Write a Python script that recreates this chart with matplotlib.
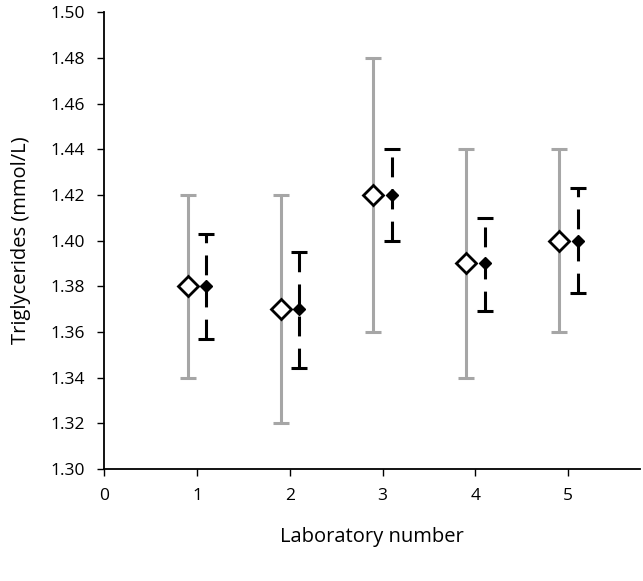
import matplotlib
matplotlib.use("Agg")
import matplotlib.pyplot as plt

plt.rcParams['font.family'] = ['Open Sans', 'DejaVu Sans']

labs = [1, 2, 3, 4, 5]
mean_a = [1.38, 1.37, 1.42, 1.39, 1.40]
low_a = [1.34, 1.32, 1.36, 1.34, 1.36]
high_a = [1.42, 1.42, 1.48, 1.44, 1.44]
mean_b = [1.38, 1.37, 1.42, 1.39, 1.40]
low_b = [1.357, 1.344, 1.400, 1.369, 1.377]
high_b = [1.403, 1.395, 1.440, 1.410, 1.423]
yticks = [1.30, 1.32, 1.34, 1.36, 1.38, 1.40, 1.42, 1.44, 1.46, 1.48, 1.50]

fig = plt.figure(figsize=(6.43, 5.81), dpi=100)
ax = fig.add_axes([0.162, 0.193, 0.833, 0.786])

xa = [l - 0.1 for l in labs]
xb = [l + 0.1 for l in labs]
ea = [[m - l for m, l in zip(mean_a, low_a)], [h - m for m, h in zip(mean_a, high_a)]]
eb = [[m - l for m, l in zip(mean_b, low_b)], [h - m for m, h in zip(mean_b, high_b)]]

ax.errorbar(xa, mean_a, yerr=ea, fmt='none', ecolor='#a6a6a6', elinewidth=2.2,
            capsize=6, capthick=2.2, zorder=2)
ax.plot(xa, mean_a, linestyle='none', marker='D', markersize=10,
        markerfacecolor='white', markeredgecolor='black', markeredgewidth=2, zorder=4)

eb_c = ax.errorbar(xb, mean_b, yerr=eb, fmt='none', ecolor='black', elinewidth=2.2,
                   capsize=6, capthick=2.2, zorder=3)
for lc in eb_c[2]:
    lc.set_linestyle((0, (6.5, 4)))
ax.plot(xb, mean_b, linestyle='none', marker='D', markersize=6,
        markerfacecolor='black', markeredgecolor='black', zorder=5)

ax.set_xlim(0, 5.77)
ax.set_ylim(1.30, 1.50)
ax.set_xticks([0, 1, 2, 3, 4, 5])
ax.set_yticks(yticks)
ax.set_yticklabels([f"{v:.2f}" for v in yticks])
ax.spines['top'].set_visible(False)
ax.spines['right'].set_visible(False)
for s in ['left', 'bottom']:
    ax.spines[s].set_linewidth(1.3)
ax.tick_params(axis='both', direction='out', length=5, width=1, labelsize=12.5, pad=9)
ax.set_xlabel('Laboratory number', fontsize=14.5, labelpad=16)
ax.set_ylabel('Triglycerides (mmol/L)', fontsize=14.5, labelpad=14)

fig.savefig('out.png', dpi=100)
